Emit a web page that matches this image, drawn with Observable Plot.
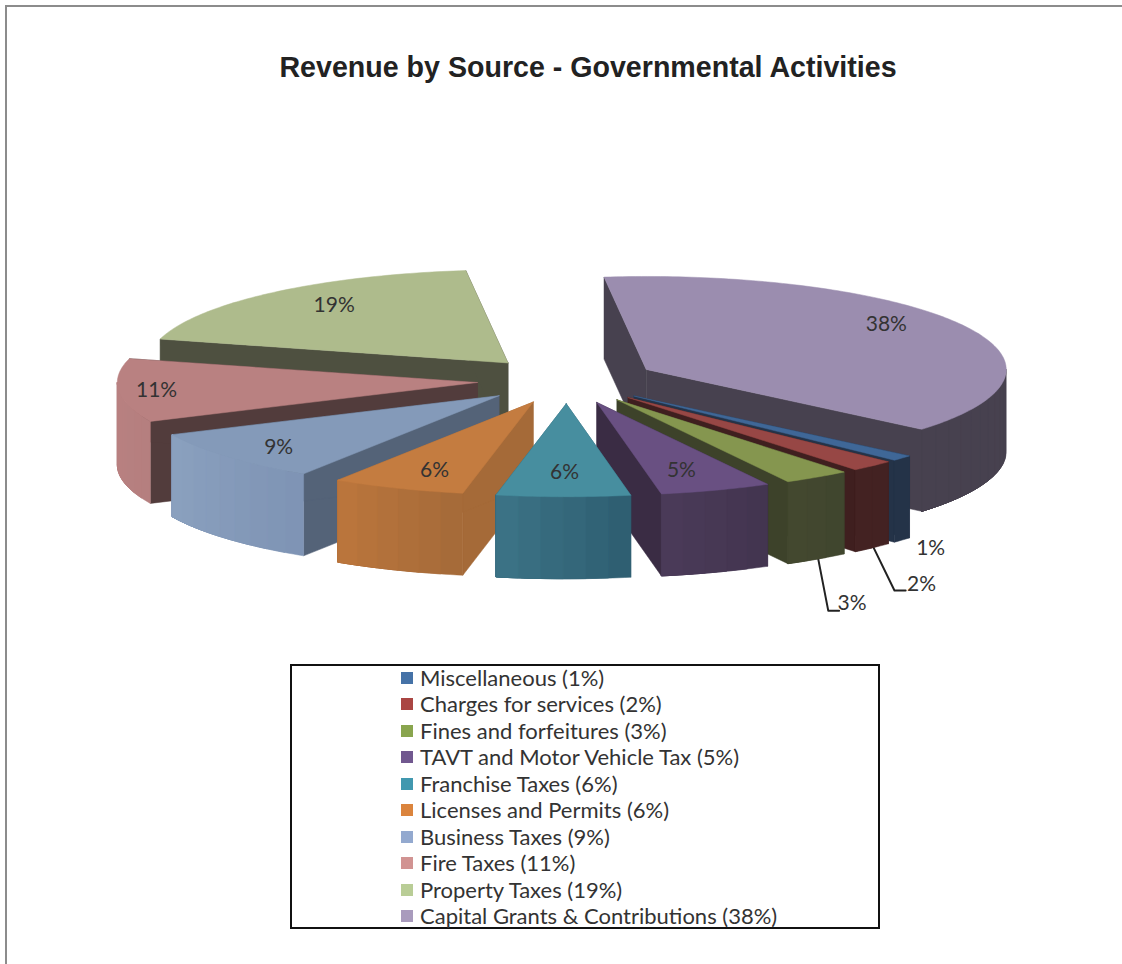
<!DOCTYPE html>
<html>
<head>
<meta charset="utf-8">
<title>Revenue by Source - Governmental Activities</title>
<script src="https://cdn.jsdelivr.net/npm/d3@7"></script>
<script src="https://cdn.jsdelivr.net/npm/@observablehq/plot@0.6"></script>
<style>
  html, body { margin: 0; padding: 0; background: #fff; }
  #page { position: relative; width: 1122px; height: 964px; overflow: hidden; }
  #frame { position: absolute; left: 5px; top: 5px; right: 0; bottom: 0;
           border-top: 2px solid #8c8c8c; border-left: 2px solid #8c8c8c; }
  #title { position: absolute; left: 0; width: 1176px; top: 50px; text-align: center;
           font: bold 28.6px/34px "Liberation Sans", sans-serif; color: #222; }
  #pie { position: absolute; left: 0; top: 100px; }
  #legend { position: absolute; left: 290px; top: 664px; width: 586px; height: 261px;
            border: 2px solid #111; }
  .row { position: absolute; left: 109px; height: 26px; display: flex; align-items: center;
         white-space: nowrap; font: 22px/26px Lato, sans-serif; color: #333; }
  .row i { display: block; flex: none; width: 12px; height: 12px; margin-right: 7px; }
</style>
</head>
<body>
<div id="page">
  <div id="frame"></div>
  <div id="title">Revenue by Source - Governmental Activities</div>
  <div id="pie"></div>
  <div id="legend"></div>
</div>
<script>
// Revenue shares, in the order the slices run clockwise around the pie.
const categories = [
  "Miscellaneous", "Charges for services", "Fines and forfeitures",
  "TAVT and Motor Vehicle Tax", "Franchise Taxes", "Licenses and Permits",
  "Business Taxes", "Fire Taxes", "Property Taxes", "Capital Grants & Contributions"
];
const shares = [1, 2, 3, 5, 6, 6, 9, 11, 19, 38];

// Slice palette: legend key, top face, radial sides, and the rim shading from its
// clockwise start (right-hand end at the front of the pie) to its clockwise end.
const keyColors  = ["#4572a7", "#aa4643", "#89a54e", "#71588f", "#4198af", "#db843d", "#93a9cf", "#d19392", "#b9cd96", "#a99bbd"];
const topColors  = ["#3f6797", "#974745", "#85964f", "#695082", "#478e9f", "#c47c40", "#849ab9", "#b98181", "#aebb8c", "#9b8daf"];
const sideColors = ["#243348", "#3f1f1f", "#3d422a", "#3a2c44", "#2f5f72", "#a56a38", "#546378", "#523c3c", "#4e5040", "#47414f"];
const rimFrom    = ["#243348", "#432222", "#40462e", "#433550", "#2f5f72", "#a66b39", "#7f94b5", "#b57f7f", "#aebb8c", "#47414f"];
const rimTo      = ["#243348", "#432222", "#43482f", "#4a3a58", "#3b7285", "#ba753c", "#8aa0be", "#b98181", "#aebb8c", "#47414f"];

// Label placement, as an offset from each slice's tip in pie radii.
const labelOffsetX = [0.824, 0.815, 0.653, 0.235, -0.005, -0.274, -0.612, -0.891, -0.483, 0.667];
const labelOffsetY = [-1.634, -2.010, -2.183, -0.731, -0.742, -0.731, -0.559, -0.086, 0.618, 0.484];

// Elbow leaders for the two thin slices whose labels sit outside, relative to the slice tip.
const leaders = [
  {slice: 1, points: [[0.682, -1.613], [0.740, -2.075], [0.771, -2.075]]},
  {slice: 2, points: [[0.559, -1.710], [0.587, -2.269], [0.617, -2.269]]}
];

// Projection of the tilted pie: pixels per unit radius, thickness, and where it is centred.
const W = 1122, H = 555;
const RX = 360, RY = 93, CX = 566.5, CY = 280;
const DEPTH = 82 / RY;
const EXPLODE = 0.25;
const FIRST_SHARE = 36.13;   // percent of the way round from twelve o'clock where the first slice starts

const rad = (deg) => (deg * Math.PI) / 180;
const rows = [];
const slices = [];
let running = FIRST_SHARE;
shares.forEach((share, i) => {
  const from = running * 3.6, to = (running + share) * 3.6;
  running += share;
  const mid = (from + to) / 2;
  slices.push({i, from, to, mid, tipX: EXPLODE * Math.sin(rad(mid)), tipY: EXPLODE * Math.cos(rad(mid))});
});
const rim = (s, a, z = 0) => [s.tipX + Math.sin(rad(a)), s.tipY + Math.cos(rad(a)) + z];

let faceId = 0;
function polygon(points, color) {
  const face = faceId++;
  [...points, points[0]].forEach(([x, y]) => rows.push({x, y, face, color}));
}

// Arc of rim points between two angles, about one per degree.
function arcPoints(s, a0, a1, z = 0) {
  const n = Math.max(2, Math.ceil(a1 - a0));
  return d3.range(n + 1).map((k) => rim(s, a0 + ((a1 - a0) * k) / n, z));
}

// Paint from the back of the pie to the front so nearer slices cover farther ones.
[...slices].sort((a, b) => b.tipY - a.tipY).forEach((s) => {
  const tip = [s.tipX, s.tipY], tipLow = [s.tipX, s.tipY - DEPTH];
  for (const a of [s.from, s.to]) {
    polygon([tip, rim(s, a), rim(s, a, -DEPTH), tipLow], sideColors[s.i]);
  }
  // Only the part of the rim facing the viewer (3 to 9 o'clock, once round or twice) has a wall.
  // Each shaded band runs on to the end of the wall, so later bands paint over it without seams.
  for (const turn of [0, 360]) {
    const a0 = Math.max(s.from, 90 + turn), a1 = Math.min(s.to, 270 + turn);
    if (a1 <= a0) continue;
    const bands = Math.max(1, Math.ceil((a1 - a0) / 4));
    const shade = d3.interpolateRgb(rimFrom[s.i], rimTo[s.i]);
    for (let k = 0; k < bands; k++) {
      const p = a0 + ((a1 - a0) * k) / bands;
      polygon([...arcPoints(s, p, a1), ...arcPoints(s, p, a1, -DEPTH).reverse()],
              shade(bands > 1 ? k / (bands - 1) : 0));
    }
  }
  polygon([tip, ...arcPoints(s, s.from, s.to)], topColors[s.i]);
});

const labels = slices.map((s) => ({
  x: s.tipX + labelOffsetX[s.i],
  y: s.tipY + labelOffsetY[s.i],
  text: `${shares[s.i]}%`
}));
const leaderRows = leaders.flatMap(({slice, points}) =>
  points.map(([dx, dy]) => ({x: slices[slice].tipX + dx, y: slices[slice].tipY + dy, slice})));

const chart = Plot.plot({
  width: W, height: H,
  marginTop: 0, marginRight: 0, marginBottom: 0, marginLeft: 0,
  x: {domain: [-CX / RX, (W - CX) / RX], range: [0, W], axis: null},
  y: {domain: [CY / RY, (CY - H) / RY], range: [0, H], axis: null},
  color: {type: "identity"},
  style: {background: "transparent", overflow: "visible"},
  marks: [
    Plot.line(leaderRows, {x: "x", y: "y", z: "slice", stroke: "#222", strokeWidth: 2, curve: "linear"}),
    Plot.line(rows, {x: "x", y: "y", z: "face", fill: "color", stroke: "color", strokeWidth: 0.5, curve: "linear"}),
    Plot.text(labels, {x: "x", y: "y", text: "text", fontFamily: "Lato, sans-serif", fontSize: 21, fill: "#333"})
  ]
});
document.getElementById("pie").appendChild(chart);

// Legend rows, one per category, top to bottom.
const legend = document.getElementById("legend");
const ROW_STEP = 26.44, ROW_FIRST = -1;
categories.forEach((name, i) => {
  const row = document.createElement("div");
  row.className = "row";
  row.style.top = `${ROW_FIRST + i * ROW_STEP}px`;
  const key = document.createElement("i");
  key.style.background = keyColors[i];
  row.appendChild(key);
  row.appendChild(document.createTextNode(`${name} (${shares[i]}%)`));
  legend.appendChild(row);
});
</script>
</body>
</html>
